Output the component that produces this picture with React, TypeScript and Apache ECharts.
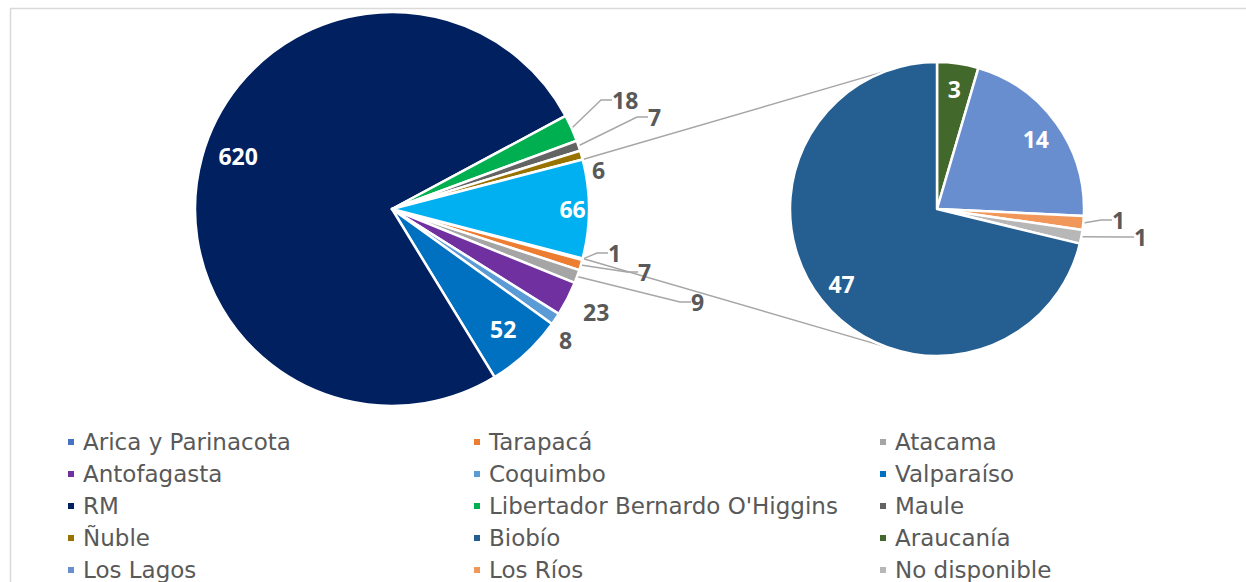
import React, { useEffect, useRef } from "react";
import * as echarts from "echarts";

// ---- data ----
const mainNames = [
  "Arica y Parinacota",
  "Tarapacá",
  "Atacama",
  "Antofagasta",
  "Coquimbo",
  "Valparaíso",
  "RM",
  "Libertador Bernardo O'Higgins",
  "Maule",
  "Ñuble",
];
const mainValues = [1, 7, 9, 23, 8, 52, 620, 18, 7, 6];
const otherName = "Otras regiones";
const subNames = ["Araucanía", "Los Lagos", "Los Ríos", "No disponible", "Biobío"];
const subValues = [3, 14, 1, 1, 47];
const otherValue = subValues.reduce((a, b) => a + b, 0);

const legendCol1 = ["Arica y Parinacota", "Antofagasta", "RM", "Ñuble", "Los Lagos"];
const legendCol2 = ["Tarapacá", "Coquimbo", "Libertador Bernardo O'Higgins", "Biobío", "Los Ríos"];
const legendCol3 = ["Atacama", "Valparaíso", "Maule", "Araucanía", "No disponible"];

// ---- styles ----
const colors: Record<string, string> = {
  "Arica y Parinacota": "#4472C4",
  "Tarapacá": "#ED7D31",
  "Atacama": "#A5A5A5",
  "Antofagasta": "#7030A0",
  "Coquimbo": "#5B9BD5",
  "Valparaíso": "#0070C0",
  "RM": "#002060",
  "Libertador Bernardo O'Higgins": "#00B050",
  "Maule": "#636363",
  "Ñuble": "#997300",
  "Otras regiones": "#00B0F0",
  "Araucanía": "#43682B",
  "Los Lagos": "#698ED0",
  "Los Ríos": "#F1975A",
  "No disponible": "#B7B7B7",
  "Biobío": "#255E91",
};

const insideLabels = new Set(["RM", "Valparaíso", "Otras regiones", "Araucanía", "Los Lagos", "Biobío"]);
const noLineLabels = new Set(["Ñuble", "Antofagasta", "Coquimbo"]);
// label anchor (left-middle) positions for outside labels
const labelAnchor: Record<string, [number, number]> = {
  "Libertador Bernardo O'Higgins": [612, 100],
  "Maule": [648, 117],
  "Ñuble": [592, 170],
  "Arica y Parinacota": [608, 253],
  "Tarapacá": [638, 272],
  "Atacama": [691, 302],
  "Antofagasta": [583, 312],
  "Coquimbo": [559, 340],
  "Los Ríos": [1112, 220],
  "No disponible": [1134, 237],
};
// small nudges for inside labels
const insideNudge: Record<string, [number, number]> = {
  "Otras regiones": [17, 0],
  "RM": [4, -10],
};

const MC: [number, number] = [392, 209];
const MR = 197;
const SC: [number, number] = [937, 209];
const SR = 147;
const LABEL_FONT = "'Noto Sans', 'Open Sans', sans-serif";
const LEGEND_FONT = "'DejaVu Sans', sans-serif";

export default function App() {
  const ref = useRef<HTMLDivElement>(null);
  useEffect(() => {
    if (!ref.current) return;
    const chart = echarts.init(ref.current, null, { renderer: "svg" });

    const mainAllNames = [...mainNames, otherName];
    const mainAllValues = [...mainValues, otherValue];
    const mainTotal = mainAllValues.reduce((a, b) => a + b, 0);
    const otherAngleDeg = (otherValue / mainTotal) * 360;
    const mainStart = 360 - otherAngleDeg / 2;

    const outsideLabel = {
      show: true,
      position: "outside",
      color: "#595959",
      fontSize: 23,
      fontWeight: "bold",
      fontFamily: LABEL_FONT,
      formatter: "{c}",
    };
    const insideLabel = {
      show: true,
      position: "inside",
      color: "#ffffff",
      fontSize: 23,
      fontWeight: "bold",
      fontFamily: LABEL_FONT,
      formatter: "{c}",
    };

    const visibleData = (names: string[], values: number[]) =>
      names.map((n, i) => {
        const isOut = !insideLabels.has(n);
        return {
          name: n,
          value: values[i],
          itemStyle: { color: colors[n] },
          label: isOut ? outsideLabel : { show: false },
          labelLine: { show: isOut && !noLineLabels.has(n), length: 10, length2: 11 },
        };
      });
    const overlayData = (names: string[], values: number[]) =>
      names.map((n, i) => ({
        name: n,
        value: values[i],
        label: insideLabels.has(n) ? insideLabel : { show: false },
      }));

    const makeLayout = (names: string[]) => (p: any) => {
      const pos = labelAnchor[names[p.dataIndex]];
      if (!pos) return {};
      return { x: pos[0], y: pos[1], align: "left", verticalAlign: "middle" };
    };
    const makeNudge = (names: string[]) => (p: any) => {
      const d = insideNudge[names[p.dataIndex]];
      if (!d) return {};
      return { dx: d[0], dy: d[1] };
    };

    const common = {
      type: "pie",
      clockwise: true,
      avoidLabelOverlap: false,
      emphasis: { disabled: true },
      labelLine: { lineStyle: { color: "#A6A6A6", width: 1.4 }, smooth: false },
    };

    // connector lines between the "other" slice and the secondary pie
    const half = (otherAngleDeg / 2) * (Math.PI / 180);
    const a = (110 * Math.PI) / 180;
    const p1 = [MC[0] + MR * Math.cos(half), MC[1] - MR * Math.sin(half)];
    const p2 = [MC[0] + MR * Math.cos(half), MC[1] + MR * Math.sin(half)];
    const q1 = [SC[0] + SR * Math.cos(a), SC[1] - SR * Math.sin(a)];
    const q2 = [SC[0] + SR * Math.cos(a), SC[1] + SR * Math.sin(a)];

    const legendBase = {
      orient: "vertical",
      top: 425,
      height: 200,
      icon: "rect",
      itemWidth: 8,
      itemHeight: 8,
      itemGap: 8,
      selectedMode: false,
      textStyle: {
        fontFamily: LEGEND_FONT,
        fontSize: 23,
        color: "#595959",
        lineHeight: 24,
        padding: [0, 0, 0, 3],
      },
    };

    chart.setOption({
      animation: false,
      backgroundColor: "#ffffff",
      legend: [
        { ...legendBase, left: 61, data: legendCol1 },
        { ...legendBase, left: 467, data: legendCol2 },
        { ...legendBase, left: 873, data: legendCol3 },
      ],
      graphic: [
        {
          type: "rect",
          z: -10,
          shape: { x: 10.5, y: 8.5, width: 1400, height: 800 },
          style: { fill: "none", stroke: "#D9D9D9", lineWidth: 1.5 },
        },
        {
          type: "line",
          z: 1,
          shape: { x1: p1[0], y1: p1[1], x2: q1[0], y2: q1[1] },
          style: { stroke: "#A6A6A6", lineWidth: 1.4 },
        },
        {
          type: "line",
          z: 1,
          shape: { x1: p2[0], y1: p2[1], x2: q2[0], y2: q2[1] },
          style: { stroke: "#A6A6A6", lineWidth: 1.4 },
        },
      ],
      series: [
        {
          ...common,
          name: "main",
          center: MC,
          radius: MR,
          startAngle: mainStart,
          itemStyle: { borderColor: "#ffffff", borderWidth: 2.5 },
          labelLayout: makeLayout(mainAllNames),
          data: visibleData(mainAllNames, mainAllValues),
          z: 2,
        },
        {
          ...common,
          name: "sub",
          center: SC,
          radius: SR,
          startAngle: 90,
          itemStyle: { borderColor: "#ffffff", borderWidth: 2.5 },
          labelLayout: makeLayout(subNames),
          data: visibleData(subNames, subValues),
          z: 2,
        },
        {
          ...common,
          name: "mainLabels",
          silent: true,
          center: MC,
          radius: [MR * 0.63, MR],
          startAngle: mainStart,
          itemStyle: { color: "rgba(0,0,0,0)", borderWidth: 0 },
          labelLine: { show: false },
          labelLayout: makeNudge(mainAllNames),
          data: overlayData(mainAllNames, mainAllValues),
          z: 3,
        },
        {
          ...common,
          name: "subLabels",
          silent: true,
          center: SC,
          radius: [SR * 0.61, SR],
          startAngle: 90,
          itemStyle: { color: "rgba(0,0,0,0)", borderWidth: 0 },
          labelLine: { show: false },
          data: overlayData(subNames, subValues),
          z: 3,
        },
      ],
    });
    return () => chart.dispose();
  }, []);
  return (
    <div
      ref={ref}
      style={{ position: "absolute", left: 0, top: 0, width: 1246, height: 582, background: "#fff" }}
    />
  );
}
